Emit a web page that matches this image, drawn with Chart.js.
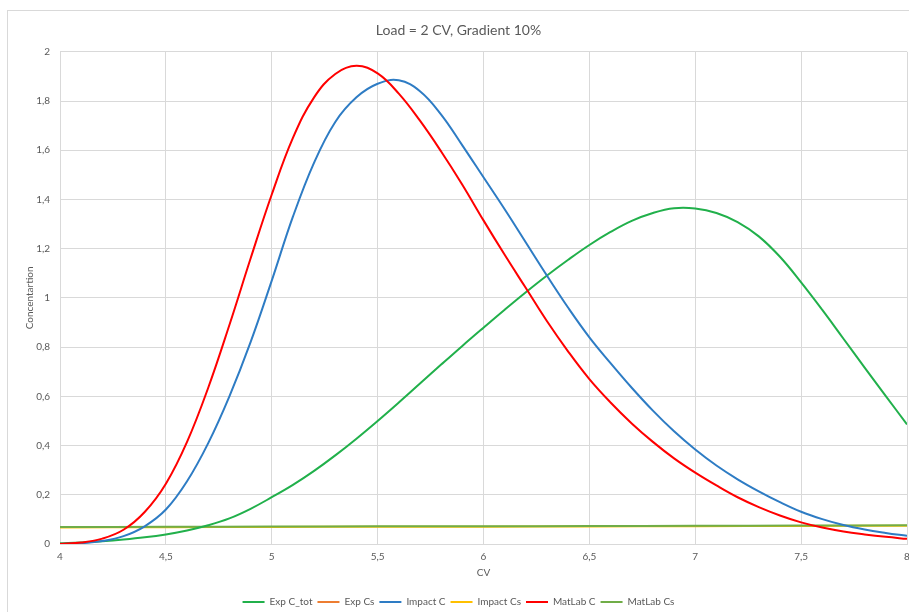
<!DOCTYPE html>
<html>
<head>
<meta charset="utf-8">
<title>Load = 2 CV, Gradient 10%</title>
<script src="https://cdn.jsdelivr.net/npm/chart.js@4"></script>
<style>
  body { margin: 0; background: #fff; }
  #wrap { width: 909px; height: 612px; }
</style>
</head>
<body>
<div id="wrap"><canvas id="chart" width="909" height="612"></canvas></div>
<script>
// CV axis for the big curves (0,1 steps)
const cv = [4.0, 4.1, 4.2, 4.3, 4.4, 4.5, 4.6, 4.7, 4.8, 4.9,
            5.0, 5.1, 5.2, 5.3, 5.4, 5.5, 5.6, 5.7, 5.8, 5.9,
            6.0, 6.1, 6.2, 6.3, 6.4, 6.5, 6.6, 6.7, 6.8, 6.9,
            7.0, 7.1, 7.2, 7.3, 7.4, 7.5, 7.6, 7.7, 7.8, 7.9, 8.0];

const expCtot = [0.003, 0.006, 0.011, 0.018, 0.027, 0.039, 0.055, 0.076, 0.104, 0.143,
                 0.19, 0.24, 0.297, 0.36, 0.428, 0.50, 0.575, 0.652, 0.729, 0.805,
                 0.879, 0.952, 1.023, 1.091, 1.155, 1.215, 1.268, 1.313, 1.345, 1.364,
                 1.363, 1.345, 1.308, 1.25, 1.167, 1.063, 0.951, 0.834, 0.717, 0.601, 0.486];

const impactC = [0.0, 0.003, 0.012, 0.032, 0.072, 0.14, 0.255, 0.41, 0.60, 0.82,
                 1.07, 1.33, 1.55, 1.715, 1.815, 1.87, 1.884, 1.84, 1.745, 1.62,
                 1.49, 1.36, 1.225, 1.09, 0.96, 0.84, 0.735, 0.635, 0.542, 0.458,
                 0.384, 0.319, 0.263, 0.214, 0.17, 0.131, 0.101, 0.077, 0.059, 0.045, 0.033];

const matlabC = [0.0, 0.006, 0.022, 0.058, 0.13, 0.245, 0.415, 0.635, 0.89, 1.16,
                 1.42, 1.65, 1.815, 1.91, 1.943, 1.912, 1.83, 1.72, 1.595, 1.46,
                 1.315, 1.175, 1.04, 0.905, 0.782, 0.67, 0.575, 0.49, 0.415, 0.348,
                 0.29, 0.238, 0.19, 0.15, 0.116, 0.088, 0.067, 0.051, 0.039, 0.029, 0.021];

// the Cs series are almost flat, so a coarser grid is enough
const cvCs = [4.0, 4.5, 5.0, 5.5, 6.0, 6.5, 7.0, 7.5, 8.0];
const expCs = [];
const impactCs = [0.0675, 0.0685, 0.0695, 0.0705, 0.0705, 0.0715, 0.0725, 0.0735, 0.0745];
const matlabCs = [0.069, 0.070, 0.071, 0.072, 0.072, 0.073, 0.074, 0.075, 0.076];

const xTicks = [4, 4.5, 5, 5.5, 6, 6.5, 7, 7.5, 8];

const pts = (xs, ys) => ys.map((y, i) => ({ x: xs[i], y: y }));
const comma = v => String(+(+v).toFixed(1)).replace(".", ",");

const grey = "#595959";
Chart.defaults.font.family = "Lato, 'Open Sans', sans-serif";
Chart.defaults.color = grey;

// thin frame like the Excel chart area
const frame = {
  id: "frame",
  beforeDraw(chart) {
    const ctx = chart.ctx;
    ctx.save();
    ctx.strokeStyle = "#d9d9d9";
    ctx.lineWidth = 1;
    ctx.strokeRect(7.5, 10.5, 1000, 1000);
    ctx.restore();
  }
};

const line = (label, data, color, order) => ({
  label, data, borderColor: color, backgroundColor: color,
  borderWidth: 2, pointRadius: 0, fill: false, tension: 0.4, order
});

new Chart(document.querySelector("#chart"), {
  type: "line",
  data: {
    datasets: [
      line("Exp C_tot", pts(cv, expCtot), "#21b04b", 3),
      line("Exp Cs", pts(cvCs, expCs), "#ed7d31", 6),
      line("Impact C", pts(cv, impactC), "#2e7cc4", 2),
      line("Impact Cs", pts(cvCs, impactCs), "#ffc000", 5),
      line("MatLab C", pts(cv, matlabC), "#ff0000", 1),
      line("MatLab Cs", pts(cvCs, matlabCs), "#70ad47", 4)
    ]
  },
  options: {
    responsive: false,
    animation: false,
    layout: { autoPadding: false, padding: { top: 12, left: 10, right: 2, bottom: -5 } },
    plugins: {
      title: {
        display: true, text: "Load = 2 CV, Gradient 10%", color: grey,
        font: { size: 14, weight: "normal" }, padding: { top: 10, bottom: 13 }
      },
      legend: {
        position: "bottom",
        labels: {
          usePointStyle: true, pointStyle: "line", pointStyleWidth: 22,
          boxHeight: 2, padding: 5, color: grey, font: { size: 10 },
          sort: (a, b) => a.datasetIndex - b.datasetIndex
        }
      },
      tooltip: { enabled: false }
    },
    scales: {
      x: {
        type: "linear", min: 4, max: 8,
        afterBuildTicks: s => { s.ticks = xTicks.map(v => ({ value: v })); },
        afterFit: s => { s.height = 48; s.paddingLeft = 0; s.paddingRight = 0; },
        grid: { color: "#d9d9d9", drawTicks: false },
        border: { color: "#d9d9d9" },
        ticks: { padding: 7, font: { size: 10 }, callback: comma, maxRotation: 0 },
        title: { display: true, text: "CV", color: grey, font: { size: 10 }, padding: { top: 0, bottom: 13 } }
      },
      y: {
        min: 0, max: 2,
        afterFit: s => { s.width = 50; },
        grid: { color: "#d9d9d9", drawTicks: false },
        border: { color: "#d9d9d9" },
        ticks: { stepSize: 0.2, padding: 10, font: { size: 10 }, callback: comma },
        title: { display: true, text: "Concentartion", color: grey, font: { size: 10 }, padding: { top: 14, bottom: 0 } }
      }
    }
  },
  plugins: [frame]
});
</script>
</body>
</html>
